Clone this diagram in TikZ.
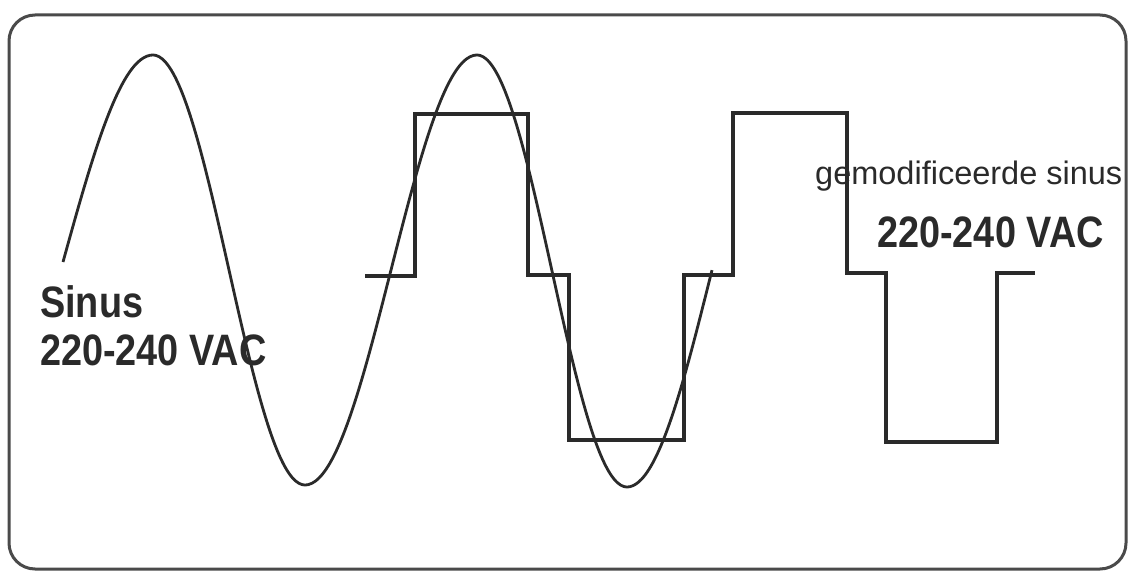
\documentclass[tikz,border=0pt]{standalone}
\usepackage{fontspec}
\setmainfont{Liberation Sans}
\definecolor{ink}{HTML}{2A2A2A}
\begin{document}
\begin{tikzpicture}[x=1pt,y=-1pt,
  frame/.style={draw=ink!85,line width=3pt,rounded corners=26pt},
  sine/.style={draw=ink,line width=2.8pt,line join=round},
  square/.style={draw=ink,line width=3.2pt,line join=miter},
  lbl/.style={inner sep=0pt,anchor=base west,text=ink},
  boldlbl/.style={lbl,font=\fontsize{44}{48}\selectfont\bfseries},
  thinlbl/.style={lbl,font=\fontsize{32.5}{36}\selectfont}]
\useasboundingbox (0,0) rectangle (1129,572);
\fill[white] (0,0) rectangle (1129,572);
% frame
\draw[frame] (9,15) rectangle (1126,569);
% sine wave
\draw[sine] plot[domain=0:1,samples=30,smooth] ({63+90*\x},{262-207*sin(90*\x)})
  -- plot[domain=0:1,samples=50,smooth] ({153+152*\x},{270-215*cos(180*\x)})
  -- plot[domain=0:1,samples=50,smooth] ({305+172*\x},{270+215*cos(180*\x)})
  -- plot[domain=0:1,samples=50,smooth] ({477+150*\x},{271-216*cos(180*\x)})
  -- plot[domain=0:1,samples=30,smooth] ({627+85*\x},{270+217*cos(90*\x)});
% modified sine (square wave)
\draw[square] (365,276) -- (415,276) -- (415,114) -- (528,114) -- (528,275)
  -- (569,275) -- (569,440) -- (684,440) -- (684,275) -- (733,275)
  -- (733,113) -- (847,113) -- (847,273) -- (886,273) -- (886,442)
  -- (997,442) -- (997,273) -- (1035,273);
% labels
\node[boldlbl] (sinus) at (40,317) {\scalebox{0.86}[1]{Sinus}};
\node[boldlbl] (volt1) at (40,365) {\scalebox{0.86}[1]{220-240 VAC}};
\node[thinlbl] (gemod) at (815,185) {gemodificeerde sinus};
\node[boldlbl] (volt2) at (877,247) {\scalebox{0.86}[1]{220-240 VAC}};
\end{tikzpicture}
\end{document}
